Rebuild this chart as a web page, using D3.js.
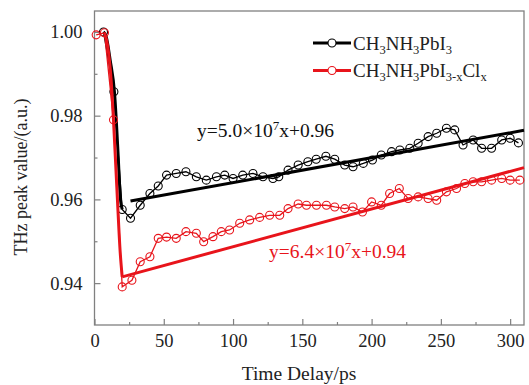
<!DOCTYPE html>
<html>
<head>
<meta charset="utf-8">
<script src="https://cdn.jsdelivr.net/npm/d3@7"></script>
<style>
  html, body { margin: 0; padding: 0; background: #fff; }
  svg text { font-family: "Liberation Serif", "Times New Roman", serif !important; }
</style>
</head>
<body>
<svg id="chart" width="529" height="385"></svg>
<script>
// CH3NH3PbI3 (black) measured points [time ps, THz peak]
const blackPoints = [
  [6.5, 1.000], [14, 0.9857], [20, 0.9576], [26, 0.9555], [33, 0.9586], [40, 0.9614],
  [46, 0.9632], [52, 0.9658], [59, 0.9662], [66, 0.9666], [73.5, 0.9654], [80.7, 0.9646],
  [88, 0.9654], [94, 0.9658], [100, 0.9650], [107, 0.9658], [114.4, 0.9662], [121.6, 0.9654],
  [128.8, 0.9650], [133, 0.9654], [139.7, 0.9670], [147, 0.9682], [154, 0.9690], [160, 0.9696],
  [167, 0.9703], [173.4, 0.9696], [180.6, 0.9682], [186.6, 0.9678], [194, 0.9686], [200.6, 0.9694],
  [207, 0.9706], [214.4, 0.9714], [220.4, 0.9718], [227.6, 0.9722], [233.6, 0.9734], [240.8, 0.9750],
  [247, 0.9758], [254, 0.9770], [260, 0.9766], [266, 0.9730], [273.3, 0.9742], [279.4, 0.9722],
  [286.6, 0.9722], [293.9, 0.9742], [300, 0.9746], [306, 0.9735]
]

// CH3NH3PbI3-xClx (red) measured points
const redPoints = [
  [1.2, 0.9993], [7.2, 0.9998], [13.7, 0.979], [20, 0.9391], [27, 0.9407], [33, 0.9451],
  [40, 0.9463], [46, 0.9507], [52, 0.9510], [59, 0.9507], [66, 0.9523], [73.5, 0.9519],
  [78.8, 0.9499], [85.5, 0.9511], [91.5, 0.9523], [97.5, 0.9527], [104.8, 0.9543], [112, 0.9551],
  [119.2, 0.9557], [126.4, 0.9562], [133.7, 0.9562], [139.7, 0.9578], [147, 0.9589], [153, 0.9586],
  [160.2, 0.9586], [167.4, 0.9586], [173.4, 0.9582], [180.6, 0.9578], [186.6, 0.9582], [193.4, 0.9570],
  [200, 0.9594], [207, 0.9586], [213, 0.9614], [220, 0.9626], [226.4, 0.9602], [233.6, 0.9606],
  [240.8, 0.9602], [247, 0.9598], [254, 0.9618], [261.3, 0.9626], [267.3, 0.9638], [273.3, 0.9642],
  [279.4, 0.9642], [286.6, 0.9646], [293.9, 0.9650], [300, 0.9646], [307, 0.9646]
]

// fast-decay curves (thick) and linear fits
const blackDecay = [[6.5, 1.000], [8.5, 0.9988], [11.3, 0.9933], [14.5, 0.9853], [17, 0.971], [18.6, 0.9606], [20, 0.9576]]
const redDecay = [[7.2, 0.9998], [9.6, 0.9965], [12, 0.9885], [13.7, 0.979], [16.1, 0.963], [18.6, 0.9471], [20, 0.9415]]
const blackFit = [[26, 0.9596], [310, 0.9765]]
const redFit = [[20, 0.9415], [310, 0.9676]]

const xTicks = [0, 50, 100, 150, 200, 250, 300]
const yTicks = [0.94, 0.96, 0.98, 1.00]

const legendItems = [
  { color: '#000', parts: [['CH'], ['3', 'sub'], ['NH'], ['3', 'sub'], ['PbI'], ['3', 'sub']] },
  { color: '#e8141b', parts: [['CH'], ['3', 'sub'], ['NH'], ['3', 'sub'], ['PbI'], ['3-x', 'sub'], ['Cl'], ['x', 'sub']] }
]
const blackEq = [['y=5.0×10'], ['7', 'sup'], ['x+0.96']]
const redEq = [['y=6.4×10'], ['7', 'sup'], ['x+0.94']]

const RED = '#e8141b'
const AXIS = '#808080'

const width = 529, height = 385
const margin = { top: 11, right: 5, bottom: 60, left: 94.5 }
const innerW = width - margin.left - margin.right
const innerH = height - margin.top - margin.bottom

const svg = d3.select('#chart')
const root = svg.append('g').attr('transform', `translate(${margin.left},${margin.top})`)

const x = d3.scaleLinear().domain([0, 310]).range([0, innerW])
const y = d3.scaleLinear().domain([0.93, 1.005]).range([innerH, 0])

// minor ticks
root.append('g')
  .attr('transform', `translate(0,${innerH})`)
  .call(d3.axisBottom(x).tickValues(d3.range(25, 310, 50)).tickSizeInner(-3).tickSizeOuter(0).tickFormat(''))
root.append('g')
  .call(d3.axisLeft(y).tickValues([0.95, 0.97, 0.99]).tickSizeInner(-3).tickSizeOuter(0).tickFormat(''))

root.append('g')
  .attr('transform', `translate(0,${innerH})`)
  .call(d3.axisBottom(x).tickValues(xTicks).tickSizeInner(-6).tickSizeOuter(0).tickPadding(9).tickFormat(d3.format('d')))
root.append('g')
  .call(d3.axisLeft(y).tickValues(yTicks).tickSizeInner(-6).tickSizeOuter(0).tickPadding(12).tickFormat(d3.format('.2f')))

root.selectAll('.domain').remove()
root.selectAll('.tick line').attr('stroke', AXIS).attr('stroke-width', 1.2)
root.selectAll('.tick text').attr('fill', '#222').attr('font-size', '18.5px')

root.append('rect')
  .attr('width', innerW).attr('height', innerH)
  .attr('fill', 'none').attr('stroke', AXIS).attr('stroke-width', 1.3)

// axis titles
root.append('text')
  .attr('x', 299 - margin.left)
  .attr('y', innerH + 55)
  .attr('text-anchor', 'middle')
  .attr('fill', '#222')
  .attr('font-size', '19.5px')
  .text('Time Delay/ps')

root.append('text')
  .attr('transform', 'rotate(-90)')
  .attr('x', -(177 - margin.top))
  .attr('y', -margin.left + 27)
  .attr('text-anchor', 'middle')
  .attr('fill', '#222')
  .attr('font-size', '18px')
  .text('THz peak value/(a.u.)')

const line = d3.line().x(d => x(d[0])).y(d => y(d[1]))
const curve = d3.line().x(d => x(d[0])).y(d => y(d[1])).curve(d3.curveMonotoneX)

function drawSeries(points, decay, fit, color) {
  root.append('path').datum(points)
    .attr('fill', 'none').attr('stroke', color).attr('stroke-width', 1.3).attr('d', line)
  root.append('path').datum(decay)
    .attr('fill', 'none').attr('stroke', color).attr('stroke-width', 3).attr('d', curve)
  root.append('path').datum(fit)
    .attr('fill', 'none').attr('stroke', color).attr('stroke-width', 3).attr('d', line)
  root.selectAll(null).data(points).enter().append('circle')
    .attr('cx', d => x(d[0]))
    .attr('cy', d => y(d[1]))
    .attr('r', 4)
    .attr('fill', 'none')
    .attr('stroke', color)
    .attr('stroke-width', 1.1)
}

drawSeries(blackPoints, blackDecay, blackFit, '#000')
drawSeries(redPoints, redDecay, redFit, RED)

// text with sub/superscript pieces; each piece resets the previous shift
function richText(sel, parts, small) {
  let shift = 0
  parts.forEach(([t, kind]) => {
    const target = kind === 'sub' ? 4 : kind === 'sup' ? -7 : 0
    const ts = sel.append('tspan').attr('dy', target - shift).text(t)
    if (kind) ts.attr('font-size', small)
    shift = target
  })
}

// legend
const legend = svg.append('g')
legendItems.forEach((item, i) => {
  const ly = 43 + i * 27.5
  legend.append('line')
    .attr('x1', 313).attr('x2', 351).attr('y1', ly).attr('y2', ly)
    .attr('stroke', item.color).attr('stroke-width', 3)
  legend.append('circle')
    .attr('cx', 332).attr('cy', ly).attr('r', 4)
    .attr('fill', '#fff').attr('stroke', item.color).attr('stroke-width', 1.1)
  const t = legend.append('text')
    .attr('x', 353).attr('y', ly + 6.5)
    .attr('fill', '#222').attr('font-size', '19px')
  richText(t, item.parts, '12.5px')
})

// fit equations
const eq1 = root.append('text')
  .attr('x', x(74)).attr('y', y(0.9749))
  .attr('fill', '#111').attr('font-size', '19.5px')
richText(eq1, blackEq, '13px')

const eq2 = root.append('text')
  .attr('x', x(126)).attr('y', y(0.94598))
  .attr('fill', RED).attr('font-size', '19.5px')
richText(eq2, redEq, '13px')
</script>
</body>
</html>
